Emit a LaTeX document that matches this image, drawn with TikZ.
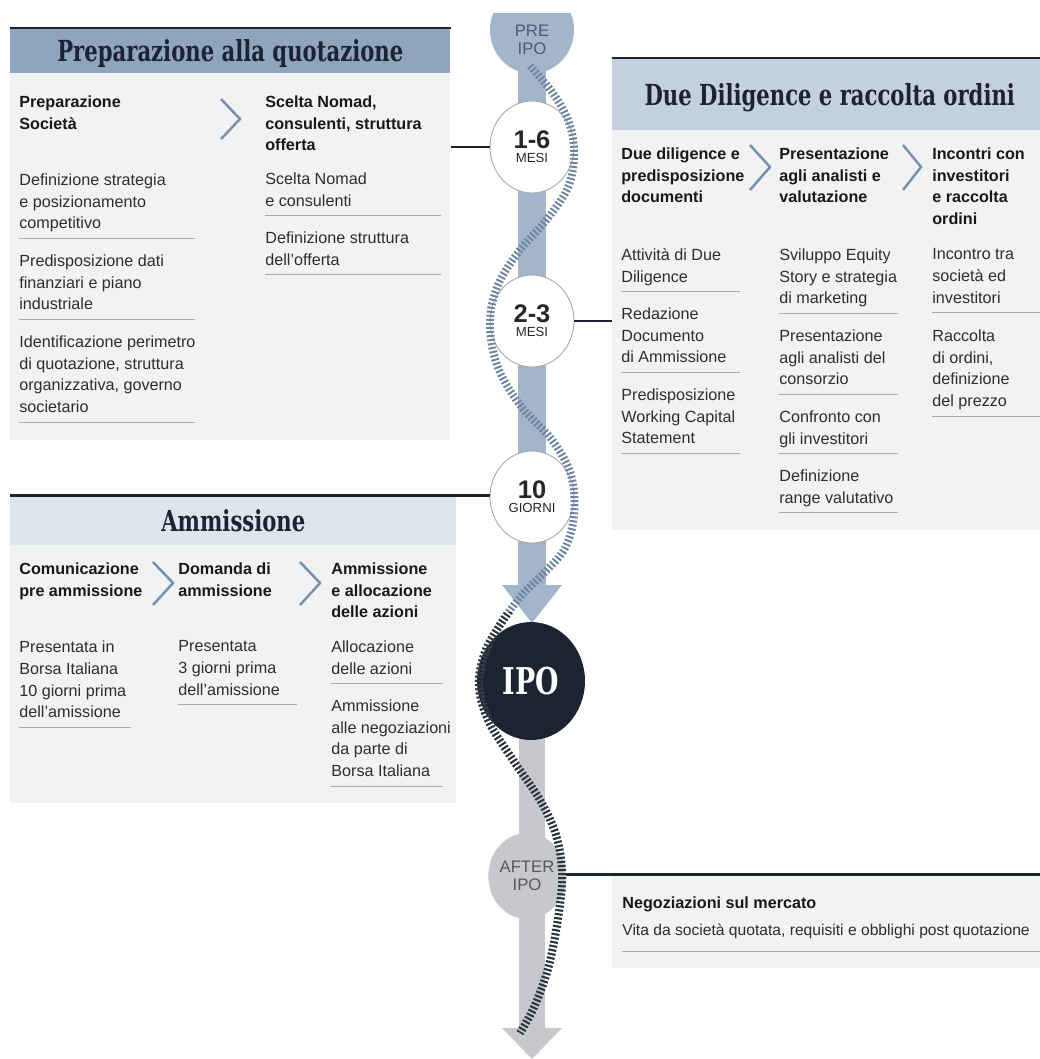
\documentclass[tikz,border=0pt]{standalone}
\usepackage{fontspec}
\setmainfont{Liberation Sans}
\newfontfamily\slabfont[FakeStretch=0.73]{DejaVu Serif}
\usetikzlibrary{shapes.geometric,positioning}

\definecolor{navy}{HTML}{1C2433}
\definecolor{steel}{HTML}{A3B5CB}
\definecolor{hdrdark}{HTML}{8FA4BD}
\definecolor{hdrmid}{HTML}{C5D0DE}
\definecolor{hdrpale}{HTML}{DFE5EC}
\definecolor{panelgray}{HTML}{F1F2F3}
\definecolor{chevblue}{HTML}{7890AD}
\definecolor{ropeblue}{HTML}{6D84A2}
\definecolor{ropedark}{HTML}{30353D}
\definecolor{bargray}{HTML}{C6C8CB}
\definecolor{sepgray}{HTML}{A7AAAE}
\definecolor{ink}{HTML}{2E2E2E}
\definecolor{preink}{HTML}{4B5D75}
\definecolor{afterink}{HTML}{55595F}

\newcommand\stagetext[2]{{\bfseries\fontsize{14.5}{14.5}\selectfont #1}\\{#2}}

\begin{document}
\begin{tikzpicture}[x=0.02cm,y=-0.02cm]
	\tikzstyle{panel}=[fill=panelgray, inner sep=0, anchor=north west]
	\tikzstyle{hdr}=[inner sep=0, anchor=north west, text=navy, text depth=0pt, font=\slabfont\bfseries\fontsize{16.5}{16.5}\selectfont]
	\tikzstyle{topline}=[draw=navy, line width=1.7pt]
	\tikzstyle{joinline}=[draw=navy, line width=1.6pt]
	\tikzstyle{colhead}=[inner sep=0, anchor=north west, align=left, text=black!90, font=\bfseries\fontsize{9.2}{12.5}\selectfont, execute at begin node=\strut, execute at end node=\strut]
	\tikzstyle{txt}=[inner sep=0, anchor=north west, align=left, text=ink, font=\fontsize{9.2}{12.5}\selectfont, execute at begin node=\strut, execute at end node=\strut]
	\tikzstyle{sepline}=[draw=sepgray, line width=0.6pt]
	\tikzstyle{chev}=[draw=chevblue, line width=1.4pt]
	\tikzstyle{stage}=[ellipse, draw=black!35, fill=white, line width=0.5pt, inner sep=0, minimum width=1.68cm, minimum height=1.84cm, align=center, text=black!85, font=\fontsize{7.5}{8}\selectfont]
	\tikzstyle{rope}=[line width=4.5pt, dash pattern=on 1.1pt off 1.2pt]

	\useasboundingbox (0,0) rectangle (1039,1059);

	% timeline
	\fill[steel] (518,30) rectangle (546,590);
	\fill[steel] (502,585) -- (562,585) -- (532,623) -- cycle;
	\fill[bargray] (519,735) rectangle (545,1030);
	\fill[bargray] (502,1028) -- (562,1028) -- (532,1059) -- cycle;
	\begin{scope}
		\clip (0,13) rectangle (1039,200);
		\node[ellipse, fill=steel, minimum width=1.68cm, minimum height=1.74cm] (pre) at (532,30) {};
	\end{scope}
	\node[align=center, inner sep=0, text=preink, font=\fontsize{9.5}{10}\selectfont] (prelbl) at (532,40) {PRE\\IPO};

	\node[stage] (c16) at (532,147) {\stagetext{1-6}{MESI}};
	\node[stage] (c23) at (532,321) {\stagetext{2-3}{MESI}};
	\node[stage] (c10) at (532,497) {\stagetext{10}{GIORNI}};
	\node[ellipse, fill=navy, inner sep=0, minimum width=2.16cm, minimum height=2.36cm, text=white, font=\slabfont\bfseries\fontsize{21}{21}\selectfont] (ipo) at (531,681) {IPO};
	\node[ellipse, fill=bargray, inner sep=0, minimum width=1.48cm, minimum height=1.72cm, align=center, text=afterink, font=\fontsize{9.5}{10}\selectfont] (after) at (527,876) {AFTER\\IPO};

	% Preparazione alla quotazione
	\node[panel, minimum width=8.8cm, minimum height=7.34cm] (prepbody) at (10,73) {};
	\node[hdr, fill=hdrdark, minimum width=8.8cm, minimum height=0.9cm] (prephdr) at (10,28) {Preparazione alla quotazione};
	\draw[topline] (prephdr.north west) -- (prephdr.north east);
	\draw[joinline] (prepbody.east |- c16) -- (c16.west);

	\node[colhead] (socH) at (19,95) {Preparazione\\Società};
	\node[colhead] (nomH) at (265,95) {Scelta Nomad,\\consulenti, struttura\\offerta};
	\draw[chev] (221,99) -- (240,119) -- (221,139);

	\node[txt] (soc1) at (19,173) {Definizione strategia\\e posizionamento\\competitivo};
	\node[txt] (soc2) at (19,254) {Predisposizione dati\\finanziari e piano\\industriale};
	\node[txt] (soc3) at (19,335) {Identificazione perimetro\\di quotazione, struttura\\organizzativa, governo\\societario};
	\node[txt] (nom1) at (265,172) {Scelta Nomad\\e consulenti};
	\node[txt] (nom2) at (265,231) {Definizione struttura\\dell'offerta};
	\foreach \n in {soc1,soc2,soc3,nom1,nom2}
		\draw[sepline] ([yshift=-1.4pt]\n.south west) -- ++(176,0);

	% Due Diligence e raccolta ordini
	\node[panel, minimum width=8.7cm, minimum height=8cm] (ddbody) at (612,130) {};
	\node[hdr, fill=hdrmid, minimum width=8.7cm, minimum height=1.44cm] (ddhdr) at (612,58) {Due Diligence e raccolta ordini};
	\draw[topline] (ddhdr.north west) -- (ddhdr.north east);
	\draw[joinline] (c23.east) -- (c23 -| ddbody.west);

	\node[colhead] (ddH) at (621,147) {Due diligence e\\predisposizione\\documenti};
	\node[colhead] (anH) at (779,147) {Presentazione\\agli analisti e\\valutazione};
	\node[colhead] (invH) at (932,147) {Incontri con\\investitori\\e raccolta\\ordini};
	\draw[chev] (750,145) -- (770,167) -- (750,190);
	\draw[chev] (903,145) -- (921,167) -- (903,190);

	\node[txt] (dd1) at (621,248) {Attività di Due\\Diligence};
	\node[txt] (dd2) at (621,307) {Redazione\\Documento\\di Ammissione};
	\node[txt] (dd3) at (621,388) {Predisposizione\\Working Capital\\Statement};
	\node[txt] (an1) at (779,248) {Sviluppo Equity\\Story e strategia\\di marketing};
	\node[txt] (an2) at (779,329) {Presentazione\\agli analisti del\\consorzio};
	\node[txt] (an3) at (779,410) {Confronto con\\gli investitori};
	\node[txt] (an4) at (779,469) {Definizione\\range valutativo};
	\node[txt] (inv1) at (932,248) {Incontro tra\\società ed\\investitori};
	\node[txt] (inv2) at (932,329) {Raccolta\\di ordini,\\definizione\\del prezzo};
	\foreach \n in {dd1,dd2,dd3,an1,an2,an3,an4}
		\draw[sepline] ([yshift=-1.4pt]\n.south west) -- ++(119,0);
	\foreach \n in {inv1,inv2}
		\draw[sepline] ([yshift=-1.4pt]\n.south west) -- ++(110,0);

	% Ammissione
	\node[panel, minimum width=8.92cm, minimum height=5.16cm] (ambody) at (10,545) {};
	\node[hdr, fill=hdrpale, minimum width=8.92cm, minimum height=1.0cm] (amhdr) at (10,495) {Ammissione};
	\draw[topline] (amhdr.north west) -- (amhdr.north west -| c10.west);

	\node[colhead] (comH) at (19,562) {Comunicazione\\pre ammissione};
	\node[colhead] (domH) at (178,562) {Domanda di\\ammissione};
	\node[colhead] (allH) at (331,562) {Ammissione\\e allocazione\\delle azioni};
	\draw[chev] (153,562) -- (173,583) -- (153,605);
	\draw[chev] (300,562) -- (320,583) -- (300,605);

	\node[txt] (com1) at (19,640) {Presentata in\\Borsa Italiana\\10 giorni prima\\dell'amissione};
	\node[txt] (dom1) at (178,640) {Presentata\\3 giorni prima\\dell'amissione};
	\node[txt] (all1) at (331,640) {Allocazione\\delle azioni};
	\node[txt] (all2) at (331,699) {Ammissione\\alle negoziazioni\\da parte di\\Borsa Italiana};
	\foreach \n in {com1,all1,all2}
		\draw[sepline] ([yshift=-1.4pt]\n.south west) -- ++(112,0);
	\draw[sepline] ([yshift=-1.4pt]dom1.south west) -- ++(119,0);

	% Negoziazioni
	\node[panel, minimum width=8.7cm, minimum height=1.88cm] (negbody) at (612,874) {};
	\draw[topline] (after.east |- negbody.north) -- (negbody.north east);
	\node[colhead] (negH) at (622,893) {Negoziazioni sul mercato};
	\node[txt, font=\fontsize{8.9}{12.5}\selectfont] (neg1) at (622,920) {Vita da società quotata, requisiti e obblighi post quotazione};
	\draw[sepline] ([yshift=-5pt]neg1.south west) -- ([yshift=-5pt]neg1.south west -| negbody.east);

	% rope
	\def\ropepath{plot[smooth, tension=0.6] coordinates {(530,66) (552,92) (568,120) (574,150) (569,185) (548,218) (520,250) (498,285) (490,322) (497,365) (520,405) (552,440) (571,475) (574,515) (565,548) (545,572) (521,596) (498,628) (484,655) (479,687) (489,722) (513,760) (540,800) (556,835) (562,872) (559,912) (549,965) (535,1005) (520,1033)}}
	\draw[rope, ropeblue] \ropepath;
	\begin{scope}
		\clip (0,612) rectangle (1039,1059);
		\draw[rope, ropedark] \ropepath;
	\end{scope}
\end{tikzpicture}
\end{document}
